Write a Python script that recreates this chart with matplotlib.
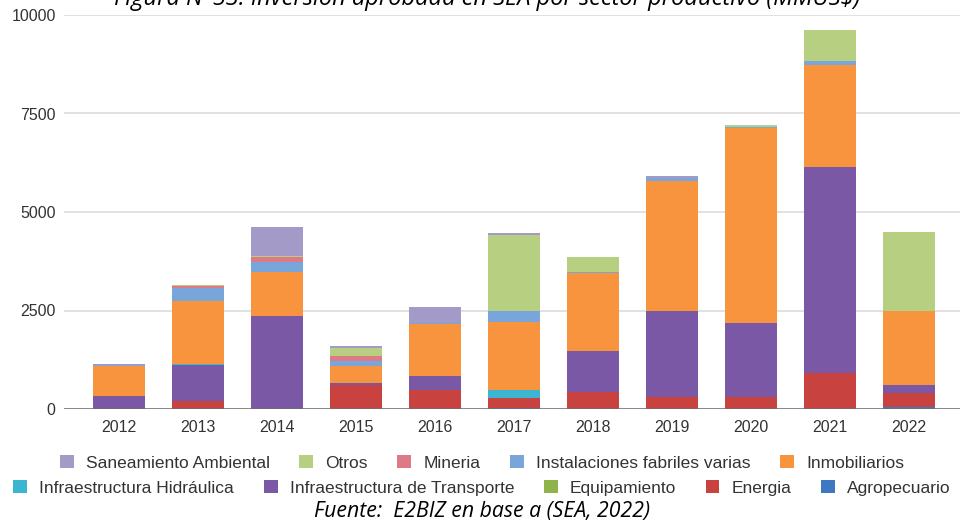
import matplotlib
matplotlib.use("Agg")
import matplotlib.pyplot as plt
from matplotlib.patches import Patch
import numpy as np

years = ["2012", "2013", "2014", "2015", "2016", "2017", "2018", "2019", "2020", "2021", "2022"]

# Stack order from bottom to top
series_names = ["Agropecuario", "Energia", "Equipamiento", "Infraestructura de Transporte",
                "Infraestructura Hidráulica", "Inmobiliarios", "Instalaciones fabriles varias",
                "Mineria", "Otros", "Saneamiento Ambiental"]

agropecuario   = [0,    0,    0,    0,    0,    20,   0,    0,    0,    0,    43]
energia        = [0,    210,  0,    609,  482,  260,  423,  296,  312,  921,  355]
equipamiento   = [0,    0,    0,    0,    0,    0,    0,    0,    0,    0,    0]
transporte     = [330,  906,  2360, 50,   355,  0,    1048, 2190, 1863, 5229, 211]
hidraulica     = [0,    20,   0,    0,    0,    195,  0,    0,    0,    0,    0]
inmobiliarios  = [750,  1607, 1127, 440,  1320, 1735, 1972, 3307, 4949, 2581, 1878]
instalaciones  = [30,   340,  254,  110,  25,   280,  42,   60,   45,   110,  0]
mineria        = [0,    30,   110,  145,  0,    0,    0,    0,    0,    0,    0]
otros          = [0,    30,   30,   195,  0,    1920, 380,  0,    38,   780,  2013]
saneamiento    = [20,   0,    745,  60,   400,  60,   0,    60,   0,    0,    0]

series_values = [agropecuario, energia, equipamiento, transporte, hidraulica,
                 inmobiliarios, instalaciones, mineria, otros, saneamiento]

colors = {
    "Agropecuario": "#3e78c2",
    "Energia": "#c8433f",
    "Equipamiento": "#8db34a",
    "Infraestructura de Transporte": "#7b58a6",
    "Infraestructura Hidráulica": "#3bb5d0",
    "Inmobiliarios": "#f7943d",
    "Instalaciones fabriles varias": "#79a6da",
    "Mineria": "#de7a86",
    "Otros": "#b6cf80",
    "Saneamiento Ambiental": "#a39ac8",
}

yticks = [0, 2500, 5000, 7500, 10000]

W, H = 964, 530
fig = plt.figure(figsize=(W / 100, H / 100), dpi=100)
ax = fig.add_axes([64 / W, 1 - 409 / H, (960 - 64) / W, (409 - 15) / H])

x = np.arange(len(years))
bottom = np.zeros(len(years))
for name, vals in zip(series_names, series_values):
    vals = np.array(vals, dtype=float)
    ax.bar(x, vals, bottom=bottom, width=0.66, color=colors[name], linewidth=0, zorder=3)
    bottom += vals

ax.set_xlim(-0.7, len(years) - 1 + 0.65)
ax.set_ylim(0, 10000)
ax.set_yticks(yticks)
ax.set_yticklabels([str(v) for v in yticks])
ax.set_xticks(x)
ax.set_xticklabels(years)
ax.grid(axis="y", color="#dcdcdc", linewidth=1.2, zorder=0)
ax.axhline(0, color="#6e6e6e", linewidth=1.8, zorder=4)
for s in ax.spines.values():
    s.set_visible(False)
ax.tick_params(axis="both", length=0, labelsize=11.5, labelcolor="#333333",
               labelfontfamily="Liberation Sans")
ax.tick_params(axis="x", pad=8)
ax.tick_params(axis="y", pad=6)

legend_font = {"family": "Liberation Sans", "size": 12.5}
row1 = ["Saneamiento Ambiental", "Otros", "Mineria", "Instalaciones fabriles varias", "Inmobiliarios"]
row2 = ["Infraestructura Hidráulica", "Infraestructura de Transporte", "Equipamiento", "Energia", "Agropecuario"]
for row, yc in ((row1, 1 - 463 / H), (row2, 1 - 488 / H)):
    handles = [Patch(facecolor=colors[n], edgecolor="none", label=n) for n in row]
    leg = fig.legend(handles=handles, loc="center", bbox_to_anchor=(0.5, yc), ncol=len(row),
                     frameon=False, prop=legend_font, handlelength=0.8, handleheight=0.8,
                     columnspacing=1.7, handletextpad=0.7, borderpad=0, borderaxespad=0)
    for t in leg.get_texts():
        t.set_color("#333333")

fig.text(0.505, 1 - 5 / H, "Figura N°53: Inversión aprobada en SEA por sector productivo (MMUS$)",
         ha="center", va="baseline", fontsize=17, style="italic", family="Open Sans")
fig.text(0.50, 1 - 512 / H, "Fuente:  E2BIZ en base a (SEA, 2022)",
         ha="center", va="center", fontsize=15.3, style="italic", family="Open Sans")

fig.savefig("out.png", dpi=100)
